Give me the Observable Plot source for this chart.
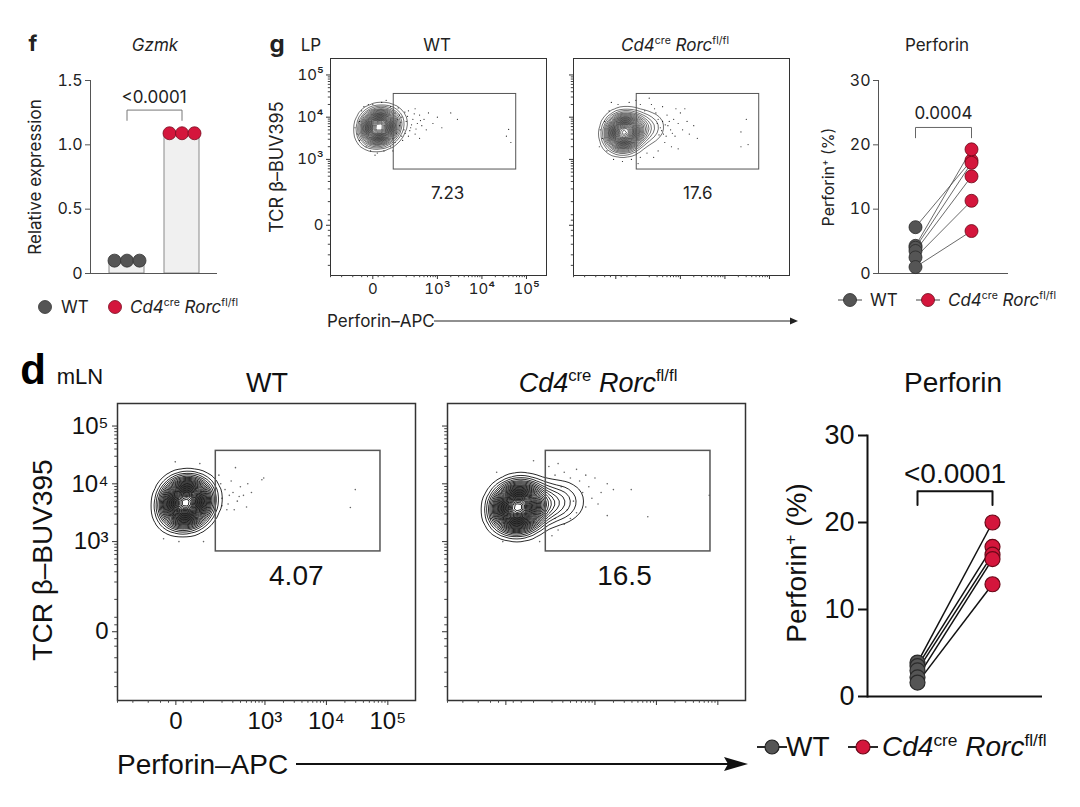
<!DOCTYPE html>
<html><head><meta charset="utf-8">
<script src="https://cdn.jsdelivr.net/npm/d3@7"></script>
<script src="https://cdn.jsdelivr.net/npm/@observablehq/plot@0.6"></script>
<style>
body{margin:0;background:#fff;}
#fig{position:relative;width:1080px;height:807px;overflow:hidden;background:#fff;}
.abs{position:absolute;white-space:nowrap;line-height:1;}
.abs sup{font-size:0.62em;vertical-align:0.6em;line-height:0;font-style:normal;}
.box{position:absolute;}
.box svg{display:block;overflow:visible;}
</style></head>
<body><div id="fig"></div>
<script>
// ---------------- DATA ----------------
const groups = ["WT", "KO"];
// f: Gzmk relative expression
const gzmkBar = [0.09, 1.08];
const gzmkWT = [0.10, 0.10, 0.10];
const gzmkKO = [1.09, 1.09, 1.09];
const gzmkP = "<0.0001";
// g: LP perforin+ (%)
const perfLP_WT = [7.2, 4.3, 4.0, 3.5, 2.5, 1.0];
const perfLP_KO = [17.6, 19.3, 17.2, 15.1, 11.3, 6.6];
const perfLP_P = "0.0004";
// d: mLN perforin+ (%)
const perfMLN_WT = [3.9, 3.5, 3.0, 2.2, 1.6];
const perfMLN_KO = [20.0, 17.2, 16.3, 15.8, 12.9];
const perfMLN_P = "<0.0001";
// flow axes (display units of biexponential axis)
const flowXDomain = [0.6, 5.45];
const flowYDomain = [0.25, 5.39];
const flowXTicks = [1.55, 3, 4, 5];
const flowYTicks = [1.44, 3, 4, 5];
const flowTickLabels = ["0", "10³", "10⁴", "10⁵"];
// gates and frequencies
const gateLP = {x1: 2.02, x2: 4.77, y1: 2.76, y2: 4.55};
const gateMLN = {x1: 2.2, x2: 4.88, y1: 2.83, y2: 4.57};
const pctLP = [{x: 3.23, y: 2.19, t: "7.23"}, {x: 3.39, y: 2.19, t: "17.6"}];
const pctMLN = [{x: 3.51, y: 2.40, t: "4.07"}, {x: 3.48, y: 2.40, t: "16.5"}];
// population cores (weighted event clusters)
const coreLP_WT = [{x:1.68,y:3.76,w:10},{x:1.55,y:3.7,w:4},{x:1.8,y:3.82,w:4},{x:1.65,y:3.6,w:3},{x:1.7,y:3.92,w:3},{x:1.95,y:3.85,w:1.5},{x:2.1,y:3.9,w:0.6}];
const coreLP_KO = [{x:1.72,y:3.64,w:10},{x:1.58,y:3.6,w:4},{x:1.85,y:3.68,w:4},{x:1.72,y:3.45,w:3},{x:1.75,y:3.85,w:3},{x:2.05,y:3.72,w:2.5},{x:2.25,y:3.75,w:1.4},{x:2.45,y:3.78,w:0.7}];
const coreMLN_WT = [{x:1.70,y:3.67,w:10},{x:1.55,y:3.62,w:4},{x:1.85,y:3.72,w:4},{x:1.68,y:3.5,w:3},{x:1.72,y:3.85,w:3},{x:2.0,y:3.75,w:1.2}];
const coreMLN_KO = [{x:1.72,y:3.59,w:10},{x:1.55,y:3.55,w:4},{x:1.9,y:3.62,w:4},{x:1.75,y:3.4,w:3},{x:1.78,y:3.8,w:3},{x:2.15,y:3.65,w:2.5},{x:2.4,y:3.68,w:1.4},{x:2.6,y:3.7,w:0.7}];
// scattered single events
const evLP_WT = [[2.05,4.1],[2.1,3.95],[2.15,3.8],[2.2,4.0],[2.25,3.7],[2.3,3.9],[2.35,4.15],[2.4,3.75],[2.45,3.95],[2.5,3.6],[2.55,3.85],[2.6,4.05],[2.65,3.8],[2.7,3.95],[2.75,3.7],[2.8,4.1],[2.9,3.85],[3.0,4.0],[3.1,3.75],[2.2,3.55],[2.35,3.55],[2.5,4.2],[2.0,3.5],[3.45,3.95],[4.6,3.71],[4.65,3.4],[4.55,3.55],[3.3,4.1],[2.6,3.5],[1.2,3.6],[1.25,3.9],[1.3,4.15],[1.4,3.3],[1.5,3.2],[1.65,3.15],[1.8,3.2],[1.95,3.3],[1.35,4.25],[1.55,4.3],[1.75,4.35],[1.95,4.25],[1.15,3.75],[2.05,3.4],[2.12,4.22],[2.28,3.62],[2.42,3.82],[2.18,3.88],[2.33,4.02],[2.08,3.62],[2.22,3.45],[2.38,3.68],[2.52,3.72],[2.48,4.08],[2.62,3.92],[2.15,4.05],[2.27,4.12],[1.45,4.3],[1.25,3.45],[1.6,3.1],[1.85,4.4],[2.0,3.2]];
const evLP_KO = [[2.35,4.3],[2.45,4.1],[2.5,3.95],[2.55,3.75],[2.6,3.9],[2.62,3.6],[2.7,4.05],[2.72,3.8],[2.78,3.7],[2.85,3.95],[2.88,3.55],[2.95,3.85],[3.0,4.1],[3.05,3.7],[3.15,3.9],[3.2,3.6],[3.3,3.8],[3.38,3.5],[2.65,3.4],[2.8,3.3],[2.5,3.2],[2.4,3.05],[2.95,3.25],[2.3,4.45],[2.6,4.25],[3.1,4.2],[4.48,3.95],[4.36,3.65],[4.52,3.35],[4.36,3.3],[1.25,3.5],[1.3,3.9],[1.4,4.15],[1.35,3.2],[1.5,3.0],[1.7,2.95],[1.9,3.0],[2.1,3.05],[1.6,4.3],[1.85,4.35],[2.1,4.3],[2.2,4.15],[2.25,3.15],[2.05,2.9],[1.2,3.7],[2.9,4.2],[2.58,3.68],[2.66,3.82],[2.52,3.58],[2.75,3.9],[2.82,3.62],[2.48,3.85],[2.68,3.55],[2.42,4.2],[1.18,3.3],[1.45,4.35],[2.0,4.4]];
const evMLN_WT = [[2.28,4.0],[2.3,3.75],[2.35,3.9],[2.4,3.65],[2.45,4.05],[2.48,3.85],[2.52,4.28],[2.55,3.7],[2.6,3.95],[2.65,3.8],[2.7,3.6],[2.72,4.0],[2.78,3.85],[2.95,4.07],[2.98,4.1],[4.47,3.9],[4.39,3.59],[1.54,4.38],[1.94,4.35],[2.38,3.55],[2.3,3.62],[2.25,4.15],[1.35,3.05],[1.6,3.0],[2.0,3.0],[2.42,3.8],[2.58,3.78],[2.5,3.55]];
const evMLN_KO = [[2.25,4.3],[2.35,4.15],[2.4,4.35],[2.5,4.2],[2.6,4.1],[2.7,4.25],[2.75,4.05],[2.85,4.15],[2.9,3.95],[3.0,4.1],[3.1,3.85],[3.2,4.0],[3.3,3.9],[2.8,3.85],[2.95,3.75],[3.05,3.65],[2.85,3.6],[2.7,3.5],[2.6,3.4],[2.5,3.3],[2.4,3.2],[2.3,3.1],[2.55,3.55],[3.59,3.9],[3.86,3.43],[3.2,3.45],[4.86,3.8],[2.45,3.95],[2.65,3.7],[2.35,3.4],[1.3,3.4],[1.5,3.0],[1.4,4.2],[2.0,4.4],[2.1,3.0]];

// ---------------- STYLE ----------------
const TOP = "Inter, 'Noto Sans', sans-serif";
const BOT = "'Liberation Sans', Arial, sans-serif";
const GRAY = "#555555", RED = "#d4163c";
const fig = document.getElementById("fig");
const KO_HTML = '<i>Cd4</i><sup>cre</sup> <i>Rorc</i><sup>fl/fl</sup>';

function T(html, x, y, o = {}) {
  const d = document.createElement("div");
  d.className = "abs";
  d.innerHTML = html;
  const tx = o.align === "left" ? "0" : "-50%";
  d.style.cssText = `left:${x}px;top:${y}px;font-size:${o.size||14}px;font-weight:${o.weight||400};font-style:${o.style||"normal"};font-family:${o.family||TOP};color:${o.color||"#222"};transform:translate(${tx},-50%) rotate(${o.rotate||0}deg);`;
  fig.appendChild(d);
}
function place(svg, x, y) {
  const w = document.createElement("div");
  w.className = "box";
  w.style.left = x + "px"; w.style.top = y + "px";
  w.appendChild(svg);
  fig.appendChild(w);
}
function deco(svgInner) {
  const d = document.createElement("div");
  d.className = "box"; d.style.left = "0px"; d.style.top = "0px";
  d.innerHTML = `<svg width="1080" height="807" style="position:absolute;left:0;top:0">${svgInner}</svg>`;
  fig.appendChild(d);
}

// minor ticks for biexponential axes
function minorTicks(zero) {
  const lin = [-0.95, -0.7, -0.45, -0.25, -0.12, 0.12, 0.25];
  const logs = d3.range(2, 5).flatMap(n => d3.range(2, 10).map(k => n + Math.log10(k)));
  return lin.map(v => zero + v).concat(logs).concat([2]);
}

// ---------------- PANEL f ----------------
const gzRows = groups.flatMap((g, gi) => (gi === 0 ? gzmkWT : gzmkKO).map((v, j) => ({g, v, j})));
place(Plot.plot({
  width: 230, height: 225, marginLeft: 90, marginRight: 13, marginTop: 20, marginBottom: 12,
  style: {fontFamily: TOP, fontSize: "16px", color: "#222", background: "transparent"},
  x: {type: "band", domain: groups, paddingInner: 0.364, paddingOuter: 0.336, axis: null},
  y: {domain: [0, 1.5], axis: null},
  marks: [
    Plot.barY(groups.map((g, i) => ({g, v: gzmkBar[i]})), {x: "g", y: "v", fill: "#f0f0f0", stroke: "#8a8a8a", strokeWidth: 1}),
    Plot.ruleY([0], {stroke: "#555"}),
    Plot.frame({anchor: "left", stroke: "#555"}),
    Plot.axisY({ticks: [0, 0.5, 1, 1.5], tickFormat: d => d === 0 ? "0" : d3.format(".1f")(d), tickSize: 5, tickPadding: 3, stroke: "#555", label: null, fontSize: 16}),
    ...[0, 1, 2].map(j => Plot.dot(gzRows.filter(r => r.j === j), {x: "g", y: "v", dx: (j - 1) * 12.5, r: 6.5, fill: d => d.g === "WT" ? GRAY : RED, stroke: d => d.g === "WT" ? "#333" : "#7a0a20", strokeWidth: 0.8})),
    Plot.line([{g: "WT", v: 1.19}, {g: "WT", v: 1.27}, {g: "KO", v: 1.27}, {g: "KO", v: 1.19}], {x: "g", y: "v", stroke: "#777", strokeWidth: 1}),
    Plot.text([gzmkP], {y: () => 1.37, text: d => d, fontSize: 17, fill: "#222"})
  ]
}), 0, 60);

// ---------------- paired perforin plots ----------------
function pairedPlot(wt, ko, p, o) {
  const pairs = wt.map((w, i) => ({wt: w, ko: ko[i]}));
  const pts = pairs.flatMap(d => [{g: "WT", v: d.wt}, {g: "KO", v: d.ko}]);
  return Plot.plot({
    width: o.W, height: o.H, marginLeft: o.mL, marginRight: o.mR, marginTop: o.mT, marginBottom: o.mB,
    style: {fontFamily: o.font, fontSize: o.fs + "px", color: o.color, background: "transparent"},
    x: {type: "point", domain: groups, padding: 0.66, axis: null},
    y: {domain: [0, 30], axis: null},
    marks: [
      Plot.ruleY([0], {stroke: o.axisColor, strokeWidth: o.aw}),
      Plot.frame({anchor: "left", stroke: o.axisColor, strokeWidth: o.aw}),
      Plot.axisY({ticks: [0, 10, 20, 30], tickSize: o.ts, tickPadding: o.tp, stroke: o.axisColor, strokeWidth: o.aw, label: null, fontSize: o.fs}),
      Plot.link(pairs, {x1: () => "WT", y1: "wt", x2: () => "KO", y2: "ko", stroke: o.lineColor, strokeWidth: o.lw}),
      Plot.dot(pts, {x: "g", y: "v", r: o.r, fill: d => d.g === "WT" ? GRAY : RED, stroke: d => d.g === "WT" ? "#2a2a2a" : "#6a0818", strokeWidth: o.dw}),
      Plot.line([{g: "WT", v: o.b1}, {g: "WT", v: o.b2}, {g: "KO", v: o.b2}, {g: "KO", v: o.b1}], {x: "g", y: "v", stroke: o.bracket, strokeWidth: o.aw}),
      Plot.text([p], {y: () => o.pt, text: d => d, fontSize: o.pfs, fill: o.color})
    ]
  });
}
place(pairedPlot(perfLP_WT, perfLP_KO, perfLP_P, {W: 210, H: 225, mL: 68, mR: 12, mT: 20, mB: 12, font: TOP, fs: 16, color: "#222", axisColor: "#555", aw: 1, ts: 5, tp: 3, lineColor: "#444", lw: 0.8, r: 6.5, dw: 0.8, b1: 21.1, b2: 22.7, bracket: "#666", pt: 24.9, pfs: 17}), 810, 60);
place(pairedPlot(perfMLN_WT, perfMLN_KO, perfMLN_P, {W: 292, H: 310, mL: 107, mR: 10, mT: 35, mB: 14, font: BOT, fs: 27, color: "#111", axisColor: "#111", aw: 2, ts: 9, tp: 4, lineColor: "#111", lw: 1.5, r: 7.5, dw: 1.2, b1: 22.0, b2: 23.6, bracket: "#111", pt: 25.6, pfs: 28}), 760, 400);

// ---------------- flow plots ----------------
function flowPlot(core, events, gate, pct, o) {
  const minX = minorTicks(flowXTicks[0]), minY = minorTicks(flowYTicks[0]);
  const lab = d => o.labels ? flowTickLabels[flowXTicks.indexOf(d)] : "";
  const labY = d => o.labels ? flowTickLabels[flowYTicks.indexOf(d)] : "";
  return Plot.plot({
    width: o.W, height: o.H, marginLeft: o.mL, marginRight: o.mR, marginTop: o.mT, marginBottom: o.mB,
    style: {fontFamily: o.font, fontSize: o.fs + "px", color: o.color, background: "transparent"},
    x: {domain: flowXDomain, axis: null, label: null},
    y: {domain: flowYDomain, axis: null, label: null},
    marks: [
      Plot.dot(events, {x: d => d[0], y: d => d[1], r: o.dr, fill: o.dotColor, stroke: null}),
      Plot.density(core, {x: "x", y: "y", weight: "w", bandwidth: o.bw, thresholds: o.th, stroke: "#111", strokeWidth: o.cw}),
      Plot.rect([gate], {x1: "x1", x2: "x2", y1: "y1", y2: "y2", fill: "none", stroke: "#555", strokeWidth: o.gw}),
      Plot.text([pct], {x: "x", y: "y", text: "t", fontSize: o.pfs, fill: o.color}),
      Plot.frame({stroke: "#333", strokeWidth: o.fw}),
      Plot.axisX({ticks: minX, tickSize: o.ts * 0.55, tickFormat: () => "", stroke: "#444"}),
      Plot.axisY({ticks: minY, tickSize: o.ts * 0.55, tickFormat: () => "", stroke: "#444"}),
      Plot.axisX({ticks: flowXTicks, tickSize: o.ts, tickPadding: o.tpx, tickFormat: lab, stroke: "#333", fontSize: o.fs, label: null}),
      Plot.axisY({ticks: flowYTicks, tickSize: o.ts, tickPadding: o.tpy, tickFormat: labY, stroke: "#333", fontSize: o.fs, label: null})
    ]
  });
}
const gOpt = {W: 290, H: 255, mL: 60, mR: 14, mT: 8, mB: 30, font: TOP, fs: 15, color: "#222", bw: 7, th: 28, cw: 0.6, dr: 0.6, dotColor: "#222", gw: 1, pfs: 17, fw: 1, ts: 4, tpx: 4, tpy: 3};
const dOpt = {W: 408, H: 345, mL: 100, mR: 10, mT: 8, mB: 40, font: BOT, fs: 24, color: "#111", bw: 10, th: 34, cw: 0.9, dr: 0.8, dotColor: "#666", gw: 1.5, pfs: 28, fw: 1.5, ts: 5, tpx: 6, tpy: 4};
place(flowPlot(coreLP_WT, evLP_WT, gateLP, pctLP[0], {...gOpt, labels: true}), 270, 50);
place(flowPlot(coreLP_KO, evLP_KO, gateLP, pctLP[1], {...gOpt, labels: false}), 513, 50);
place(flowPlot(coreMLN_WT, evMLN_WT, gateMLN, pctMLN[0], {...dOpt, labels: true}), 17, 395);
place(flowPlot(coreMLN_KO, evMLN_KO, gateMLN, pctMLN[1], {...dOpt, labels: false}), 347, 395);

// ---------------- text & decorations ----------------
T("f", 33, 43, {size: 22, weight: 700});
T("<i>Gzmk</i>", 155, 45, {size: 17});
T("Relative expression", 35, 177, {size: 17, rotate: -90});
T("g", 277, 44, {size: 24, weight: 700});
T("LP", 311, 45, {size: 17});
T("WT", 437, 45, {size: 17});
T(KO_HTML, 675, 45, {size: 17});
T("Perforin", 937, 45, {size: 17});
T("Perforin<sup>+</sup> (%)", 828, 177, {size: 16, rotate: -90});
T("TCR β–BUV395", 277, 167, {size: 18, rotate: -90});
T("Perforin–APC", 327, 321, {size: 17, align: "left"});

T("d", 33, 370, {size: 42, weight: 700, family: BOT, color: "#000"});
T("mLN", 80, 377, {size: 22, family: BOT, color: "#111"});
T("WT", 267, 383, {size: 27, family: BOT, color: "#111"});
T(KO_HTML, 598, 383, {size: 27, family: BOT, color: "#111"});
T("Perforin", 953, 383, {size: 28, family: BOT, color: "#111"});
T("Perforin<sup>+</sup> (%)", 797, 563, {size: 28, family: BOT, color: "#111", rotate: -90});
T("TCR β–BUV395", 43, 560, {size: 28, family: BOT, color: "#111", rotate: -90});
T("Perforin–APC", 117, 765, {size: 28, family: BOT, color: "#111", align: "left"});

// legends text
T("WT", 61, 307, {size: 17, align: "left"});
T(KO_HTML, 130, 307, {size: 17, align: "left"});
T("WT", 870, 300, {size: 17, align: "left"});
T(KO_HTML, 948, 300, {size: 17, align: "left"});
T("WT", 786, 747, {size: 28, family: BOT, color: "#111", align: "left"});
T(KO_HTML, 882, 747, {size: 28, family: BOT, color: "#111", align: "left"});

deco(`
  <line x1="434" y1="321" x2="792" y2="321" stroke="#222" stroke-width="1.2"/>
  <path d="M798,321 L790,317.5 L790,324.5 Z" fill="#222"/>
  <line x1="296" y1="764" x2="728" y2="764" stroke="#111" stroke-width="2"/>
  <path d="M748,764 L724,757 L728,764 L724,771 Z" fill="#111"/>
  <circle cx="45" cy="307" r="6.5" fill="${GRAY}" stroke="#333" stroke-width="0.8"/>
  <circle cx="115" cy="307" r="6.5" fill="${RED}" stroke="#7a0a20" stroke-width="0.8"/>
  <line x1="838" y1="300" x2="862" y2="300" stroke="#444" stroke-width="1"/>
  <circle cx="850" cy="300" r="6.5" fill="${GRAY}" stroke="#2a2a2a" stroke-width="0.8"/>
  <line x1="916" y1="300" x2="940" y2="300" stroke="#444" stroke-width="1"/>
  <circle cx="928" cy="300" r="6.5" fill="${RED}" stroke="#6a0818" stroke-width="0.8"/>
  <line x1="757" y1="747" x2="787" y2="747" stroke="#111" stroke-width="1.8"/>
  <circle cx="772" cy="747" r="7" fill="${GRAY}" stroke="#222" stroke-width="1.2"/>
  <line x1="848" y1="747" x2="878" y2="747" stroke="#111" stroke-width="1.8"/>
  <circle cx="863" cy="747" r="7" fill="${RED}" stroke="#6a0818" stroke-width="1.2"/>
`);
</script></body></html>
